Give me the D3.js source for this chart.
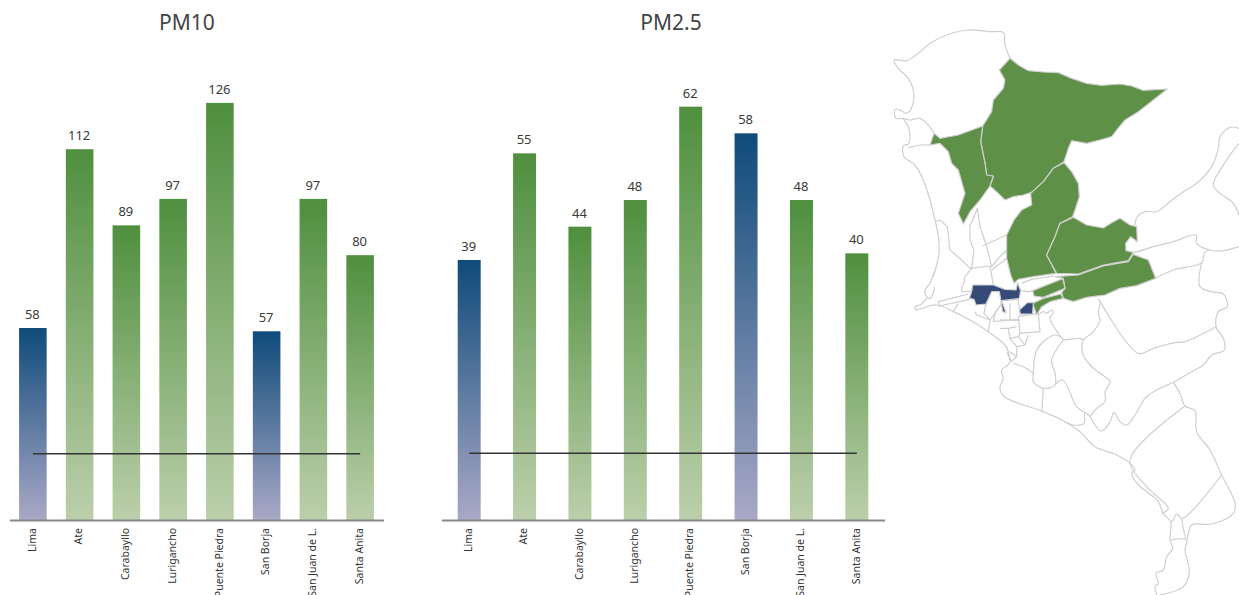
<!DOCTYPE html>
<html>
<head>
<meta charset="utf-8">
<title>PM10 y PM2.5</title>
<script src="https://cdn.jsdelivr.net/npm/d3@7"></script>
<style>
  html, body { margin: 0; padding: 0; background: #fff; overflow: hidden; }
  svg { display: block; font-family: "Noto Sans", sans-serif; }
  .title { font-size: 21px; fill: #444; text-anchor: middle; }
  .value { font-size: 13px; fill: #3a3a3a; text-anchor: middle; }
  .tick text { font-family: "Noto Sans", sans-serif; font-size: 10.5px; fill: #333; }
  .axis .domain { stroke: #888; stroke-width: 2px; }
  .limit { stroke: #333; stroke-width: 1.5px; }
  .border { fill: none; stroke: #cfcfcf; stroke-width: 1.2; stroke-linejoin: round; }
  .district { stroke: #cfcfcf; stroke-width: 1.2; stroke-linejoin: round; }
</style>
</head>
<body>
<div id="chart"></div>
<script>
// Chart data
const CATEGORIES = ["Lima", "Ate", "Carabayllo", "Lurigancho", "Puente Piedra", "San Borja", "San Juan de L.", "Santa Anita"];
const PM10_VALUES = [58, 112, 89, 97, 126, 57, 97, 80];
const PM25_VALUES = [39, 55, 44, 48, 62, 58, 48, 40];
const BLUE_STATIONS = ["Lima", "San Borja"];
const PM10_LIMIT = 20;
const PM25_LIMIT = 10;

// Map outlines, in tracing units (3 per pixel)
const GREEN_DISTRICTS = [
  [[360,115],[385,135],[415,152],[460,156],[505,158],[545,175],[590,190],[635,196],[690,192],[725,198],[760,211],[832,207],[790,240],[745,275],[705,300],[680,330],[665,350],[630,360],[590,370],[545,362],[535,385],[522,425],[490,445],[460,485],[425,517],[400,525],[370,530],[345,540],[325,520],[300,498],[310,470],[290,465],[285,430],[272,365],[278,318],[305,275],[310,240],[340,205],[345,180],[328,150]],
  [[278,318],[272,365],[285,430],[290,465],[310,468],[300,498],[270,540],[240,575],[220,612],[205,580],[225,520],[205,450],[185,430],[175,395],[150,370],[120,375],[132,340],[150,355],[205,345]],
  [[522,428],[545,455],[565,490],[568,530],[555,570],[548,590],[510,610],[495,650],[470,705],[498,760],[430,770],[385,778],[372,790],[362,765],[350,715],[350,645],[372,600],[395,570],[425,555],[422,520],[460,485],[490,445]],
  [[550,592],[590,615],[640,624],[670,605],[690,595],[720,615],[740,620],[742,665],[722,650],[707,670],[708,692],[730,697],[715,722],[640,735],[565,762],[500,760],[470,705],[495,650],[510,610]],
  [[730,703],[775,720],[797,775],[740,797],[690,805],[645,825],[590,832],[550,845],[520,835],[515,818],[525,805],[520,775],[495,770],[565,765],[640,738],[715,725]],
  [[428,812],[445,805],[518,776],[525,805],[460,832],[432,828]],
  [[428,850],[440,885],[455,860],[480,845],[520,835],[512,822],[460,835]]
];
const BLUE_DISTRICTS = [
  [[248,795],[310,795],[345,808],[378,810],[383,788],[392,812],[388,835],[335,842],[348,878],[338,875],[328,815],[305,815],[288,852],[258,855],[252,838],[238,835],[245,815]],
  [[412,848],[430,848],[428,882],[392,882],[388,870]]
];
const BORDERS = [
  // north
  [[360,115],[345,75],[340,38],[300,35],[235,30],[170,45],[120,70],[85,100],[50,122],[12,120],[25,145],[55,175],[70,210],[68,255],[50,280],[30,270],[15,268],[18,295],[38,295],[60,300],[90,295],[110,310],[132,338]],
  // coast
  [[38,295],[55,320],[60,345],[55,372],[40,378],[42,410],[75,435],[100,480],[120,540],[135,600],[145,650],[147,700],[130,770],[135,750],[120,790],[105,810],[110,830],[120,835],[132,810],[132,800]],
  [[110,835],[90,855],[75,860],[78,870],[95,865],[140,855],[190,875],[240,900],[295,935],[345,975],[355,995],[358,1030],[335,1050],[340,1075],[330,1100],[340,1128],[460,1175],[525,1205],[570,1235],[615,1280],[680,1305],[720,1330],[735,1350],[725,1360],[745,1395],[770,1415],[805,1445],[820,1480],[842,1505],[840,1560],[848,1585],[830,1610],[820,1650],[798,1660],[805,1690],[795,1700],[800,1725]],
  [[120,375],[95,375],[55,383]],
  // east
  [[1047,325],[1020,322],[990,350],[985,385],[965,440],[920,490],[880,515],[840,545],[800,575],[765,575],[742,590],[735,615]],
  [[1047,370],[1010,420],[970,495],[990,520],[1030,550],[1047,585]],
  [[708,692],[730,697],[790,680],[850,665],[918,645],[920,670],[960,690],[1000,692],[1047,680]],
  [[797,775],[850,750],[935,728],[945,695],[960,690]],
  [[935,728],[930,800],[965,815],[1000,822],[1012,860],[985,875],[978,920],[1000,955],[1003,990],[965,1005],[940,1035],[905,1055],[850,1087],[800,1110],[765,1135],[735,1185],[710,1215],[690,1205],[672,1178],[658,1210],[632,1233],[615,1215],[600,1190],[585,1178],[582,1210],[550,1215],[525,1205]],
  [[978,920],[885,965],[855,968],[790,985],[745,1000],[625,835]],
  [[630,850],[625,880],[630,900],[605,940],[580,960],[578,1000],[600,1035],[630,1060],[660,1085],[645,1115],[645,1145],[620,1165],[600,1190]],
  // south
  [[850,1087],[870,1120],[885,1158],[915,1172],[920,1235],[960,1290],[995,1365],[1035,1450],[1030,1480],[965,1512],[905,1515],[890,1558],[875,1495]],
  [[885,1158],[720,1320],[770,1400],[835,1465],[815,1480]],
  [[995,1365],[877,1495],[860,1482],[848,1502],[842,1505]],
  [[840,1560],[890,1560],[885,1590],[898,1655],[880,1700],[810,1725]],
  // below the metro area
  [[445,885],[460,875],[470,880],[485,870],[490,878],[480,895],[505,940],[520,958],[570,955],[580,960]],
  [[520,960],[485,1020],[495,1060],[495,1095],[460,1105],[430,1085],[430,1060],[435,1005],[450,975],[495,945],[520,958]],
  [[495,1095],[518,1080],[560,1160],[585,1178]],
  [[460,1105],[455,1175]],
  [[370,1030],[400,1040],[430,1060]]
];
const METRO_BORDERS = [
  [[262,565],[270,620],[290,680],[305,740],[325,715],[350,690]],
  [[262,565],[240,620],[240,660],[252,690],[245,745],[225,770],[220,795],[215,800],[215,815],[245,815]],
  [[172,620],[150,600],[135,605]],
  [[172,620],[180,690],[215,720],[240,745],[300,738],[310,795]],
  [[278,678],[350,645]],
  [[305,750],[350,715]],
  [[235,822],[145,845],[148,858],[238,838]],
  [[205,850],[190,875]],
  [[288,850],[282,880],[300,900],[335,850]],
  [[255,875],[260,885],[300,900],[295,935]],
  [[335,850],[315,880],[310,905],[360,900],[360,850]],
  [[360,900],[390,900]],
  [[385,890],[445,880],[450,935],[390,940],[385,890]],
  [[330,900],[385,900]],
  [[330,925],[355,925],[380,920]],
  [[355,925],[360,955],[385,950],[390,940]],
  [[385,950],[405,975],[380,980],[360,955]],
  [[405,975],[415,945]],
  [[360,995],[380,1010],[365,1025],[350,995]],
  [[380,980],[380,1010]],
  [[395,790],[425,778],[492,768]],
  [[392,812],[415,815],[428,812]],
  [[335,842],[385,838],[390,885]]
];

const width = 1239;
const height = 595;

const svg = d3.select("#chart").append("svg")
  .attr("width", width)
  .attr("height", height);

const defs = svg.append("defs");

function addGradient(id, top, bottom) {
  const grad = defs.append("linearGradient")
    .attr("id", id)
    .attr("x1", 0).attr("y1", 0)
    .attr("x2", 0).attr("y2", 1);
  grad.append("stop").attr("offset", "0%").attr("stop-color", top);
  grad.append("stop").attr("offset", "100%").attr("stop-color", bottom);
}
addGradient("grad-green", "#4f8f3e", "#bccfab");
addGradient("grad-blue", "#0f4b7a", "#a9a8c6");

function drawBars(opts) {
  const x = d3.scaleBand()
    .domain(CATEGORIES)
    .range(opts.xRange)
    .paddingInner(opts.padding)
    .paddingOuter(opts.padding / 2);

  // px per unit is different in each panel, so the domain top differs too
  const y = d3.scaleLinear()
    .domain([0, opts.yMax])
    .range([520, 40]);

  const g = svg.append("g");

  g.append("text")
    .attr("class", "title")
    .attr("x", opts.titleX)
    .attr("y", 30)
    .text(opts.title);

  const rows = CATEGORIES.map((c, i) => ({ name: c, value: opts.values[i] }));

  g.selectAll("rect.bar")
    .data(rows)
    .enter()
    .append("rect")
    .attr("class", "bar")
    .attr("x", d => x(d.name))
    .attr("y", d => y(d.value))
    .attr("width", x.bandwidth())
    .attr("height", d => y(0) - y(d.value))
    .attr("fill", d => BLUE_STATIONS.includes(d.name) ? "url(#grad-blue)" : "url(#grad-green)");

  g.selectAll("text.value")
    .data(rows)
    .enter()
    .append("text")
    .attr("class", "value")
    .attr("x", d => x(d.name) + x.bandwidth() / 2 - 0.5)
    .attr("y", d => y(d.value) - 9)
    .text(d => d.value);

  const axis = g.append("g")
    .attr("class", "axis")
    .attr("transform", `translate(0,${y(0)})`)
    .call(d3.axisBottom(x).tickSize(0).tickSizeOuter(0));

  axis.selectAll(".tick text")
    .attr("transform", "rotate(-90)")
    .attr("x", -8)
    .attr("y", -1)
    .attr("dy", "0.35em")
    .style("text-anchor", "end");

  g.append("line")
    .attr("class", "limit")
    .attr("x1", x(CATEGORIES[0]) + x.bandwidth() / 2)
    .attr("x2", x(CATEGORIES[CATEGORIES.length - 1]) + x.bandwidth() / 2)
    .attr("y1", y(opts.limit))
    .attr("y2", y(opts.limit));
}

drawBars({
  title: "PM10", titleX: 187, values: PM10_VALUES,
  limit: PM10_LIMIT, xRange: [9.5, 383.5], padding: 0.41, yMax: 145
});
drawBars({
  title: "PM2.5", titleX: 671, values: PM25_VALUES,
  limit: PM25_LIMIT, xRange: [441.5, 884.5], padding: 0.585, yMax: 72
});

/* Map */
const mapX = d3.scaleLinear().domain([0, 1047]).range([890, 1239]);
const mapY = d3.scaleLinear().domain([0, 1725]).range([20, 595]);
const outline = d3.line().x(d => mapX(d[0])).y(d => mapY(d[1]));
const smoothOutline = d3.line().x(d => mapX(d[0])).y(d => mapY(d[1])).curve(d3.curveCatmullRom.alpha(0.5));

const map = svg.append("g").attr("class", "map");

map.selectAll("path.border")
  .data(BORDERS)
  .enter()
  .append("path")
  .attr("class", "border")
  .attr("d", smoothOutline);

map.selectAll("path.metro")
  .data(METRO_BORDERS)
  .enter()
  .append("path")
  .attr("class", "border metro")
  .attr("d", outline);

map.selectAll("path.green")
  .data(GREEN_DISTRICTS)
  .enter()
  .append("path")
  .attr("class", "district green")
  .attr("fill", "#5f9048")
  .attr("d", d => outline(d) + "Z");

map.selectAll("path.blue")
  .data(BLUE_DISTRICTS)
  .enter()
  .append("path")
  .attr("class", "district blue")
  .attr("fill", "#364a78")
  .attr("d", d => outline(d) + "Z");
</script>
</body>
</html>
